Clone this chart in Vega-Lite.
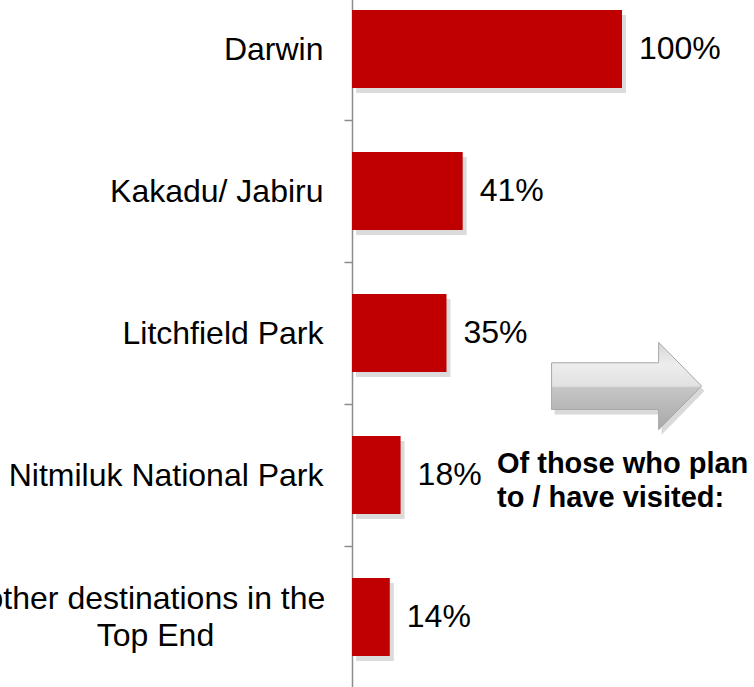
{
  "$schema": "https://vega.github.io/schema/vega-lite/v6.json",
  "width": 402,
  "height": 710,
  "autosize": "none",
  "padding": {"left": 352, "top": -22, "right": 0, "bottom": 0},
  "background": "white",
  "config": {"view": {"stroke": null}, "font": "Liberation Sans"},
  "datasets": {
    "bars": [
      {"destination": "Darwin", "share": 1.00},
      {"destination": "Kakadu/ Jabiru", "share": 0.41},
      {"destination": "Litchfield Park", "share": 0.35},
      {"destination": "Nitmiluk National Park", "share": 0.18},
      {"destination": "Other destinations in the Top End", "share": 0.14}
    ],
    "notes": [
      {"kind": "arrow", "destination": "Litchfield Park", "pos": 1.017},
      {"kind": "note", "destination": "Nitmiluk National Park", "pos": 0.537, "text": ["Of those who plan", "to / have visited:"]},
      {"kind": "label", "destination": "Other destinations in the Top End", "pos": -0.728, "text": ["other destinations in the", "Top End"]}
    ]
  },
  "layer": [
    {
      "data": {"name": "bars"},
      "mark": {"type": "bar", "height": {"band": 0.55}, "color": "#000000", "opacity": 0.14, "xOffset": 4, "yOffset": 5},
      "encoding": {
        "y": {
          "field": "destination", "type": "nominal", "sort": null,
          "scale": {"paddingInner": 0, "paddingOuter": 0},
          "axis": {
            "title": null,
            "domainColor": "#8c8c8c", "domainWidth": 1.5,
            "tickColor": "#8c8c8c", "tickWidth": 1.5, "tickSize": 8,
            "tickBand": "extent",
            "labelFont": "Liberation Sans", "labelFontSize": 32, "labelColor": "#000000",
            "labelPadding": 21, "labelLimit": 1000,
            "labelBaseline": "middle", "labelOverlap": false,
            "labelExpr": "datum.value == 'Other destinations in the Top End' ? '' : datum.label"
          }
        },
        "x": {"field": "share", "type": "quantitative", "scale": {"domain": [0, 1.489], "nice": false, "zero": true}, "axis": null}
      }
    },
    {
      "data": {"name": "bars"},
      "mark": {"type": "bar", "height": {"band": 0.55}, "color": "#C00000"},
      "encoding": {
        "y": {"field": "destination", "type": "nominal", "sort": null},
        "x": {"field": "share", "type": "quantitative"}
      }
    },
    {
      "data": {"name": "bars"},
      "mark": {"type": "text", "align": "left", "baseline": "middle", "dx": 17, "fontSize": 32, "color": "#000000", "font": "Liberation Sans"},
      "encoding": {
        "y": {"field": "destination", "type": "nominal", "sort": null},
        "x": {"field": "share", "type": "quantitative"},
        "text": {"field": "share", "type": "quantitative", "format": ".0%"}
      }
    },
    {
      "data": {"name": "notes"},
      "transform": [{"filter": "datum.kind == 'arrow'"}],
      "mark": {
        "type": "point", "filled": true, "size": 22500,
        "shape": "M -1 -0.31 L 0.427 -0.31 L 0.427 -0.583 L 1 0 L 0.427 0.583 L 0.427 0.313 L -1 0.313 Z",
        "color": "#000000", "opacity": 0.15, "xOffset": 3, "yOffset": 58
      },
      "encoding": {
        "y": {"field": "destination", "type": "nominal", "sort": null},
        "x": {"field": "pos", "type": "quantitative"}
      }
    },
    {
      "data": {"name": "notes"},
      "transform": [{"filter": "datum.kind == 'arrow'"}],
      "mark": {
        "type": "point", "filled": true, "size": 22500,
        "shape": "M -1 -0.31 L 0.427 -0.31 L 0.427 -0.583 L 1 0 L 0.427 0.583 L 0.427 0.313 L -1 0.313 Z",
        "fill": {"gradient": "linear", "x1": 0, "y1": 0, "x2": 0, "y2": 1, "stops": [
          {"offset": 0, "color": "#d4d4d4"}, {"offset": 0.25, "color": "#ededed"}, {"offset": 0.5, "color": "#e2e2e2"},
          {"offset": 0.52, "color": "#c6c6c6"}, {"offset": 1, "color": "#a8a8a8"}]},
        "stroke": "#a8a8a8", "strokeWidth": 1, "opacity": 1, "yOffset": 53
      },
      "encoding": {
        "y": {"field": "destination", "type": "nominal", "sort": null},
        "x": {"field": "pos", "type": "quantitative"}
      }
    },
    {
      "data": {"name": "notes"},
      "transform": [{"filter": "datum.kind == 'note'"}],
      "mark": {"type": "text", "align": "left", "baseline": "middle", "fontSize": 29, "fontWeight": "bold", "lineHeight": 34, "color": "#000000", "font": "Liberation Sans", "yOffset": -11},
      "encoding": {
        "y": {"field": "destination", "type": "nominal", "sort": null},
        "x": {"field": "pos", "type": "quantitative"},
        "text": {"field": "text"}
      }
    },
    {
      "data": {"name": "notes"},
      "transform": [{"filter": "datum.kind == 'label'"}],
      "mark": {"type": "text", "align": "center", "baseline": "middle", "fontSize": 32, "lineHeight": 37, "color": "#000000", "font": "Liberation Sans", "yOffset": -18},
      "encoding": {
        "y": {"field": "destination", "type": "nominal", "sort": null},
        "x": {"field": "pos", "type": "quantitative"},
        "text": {"field": "text"}
      }
    }
  ]
}
